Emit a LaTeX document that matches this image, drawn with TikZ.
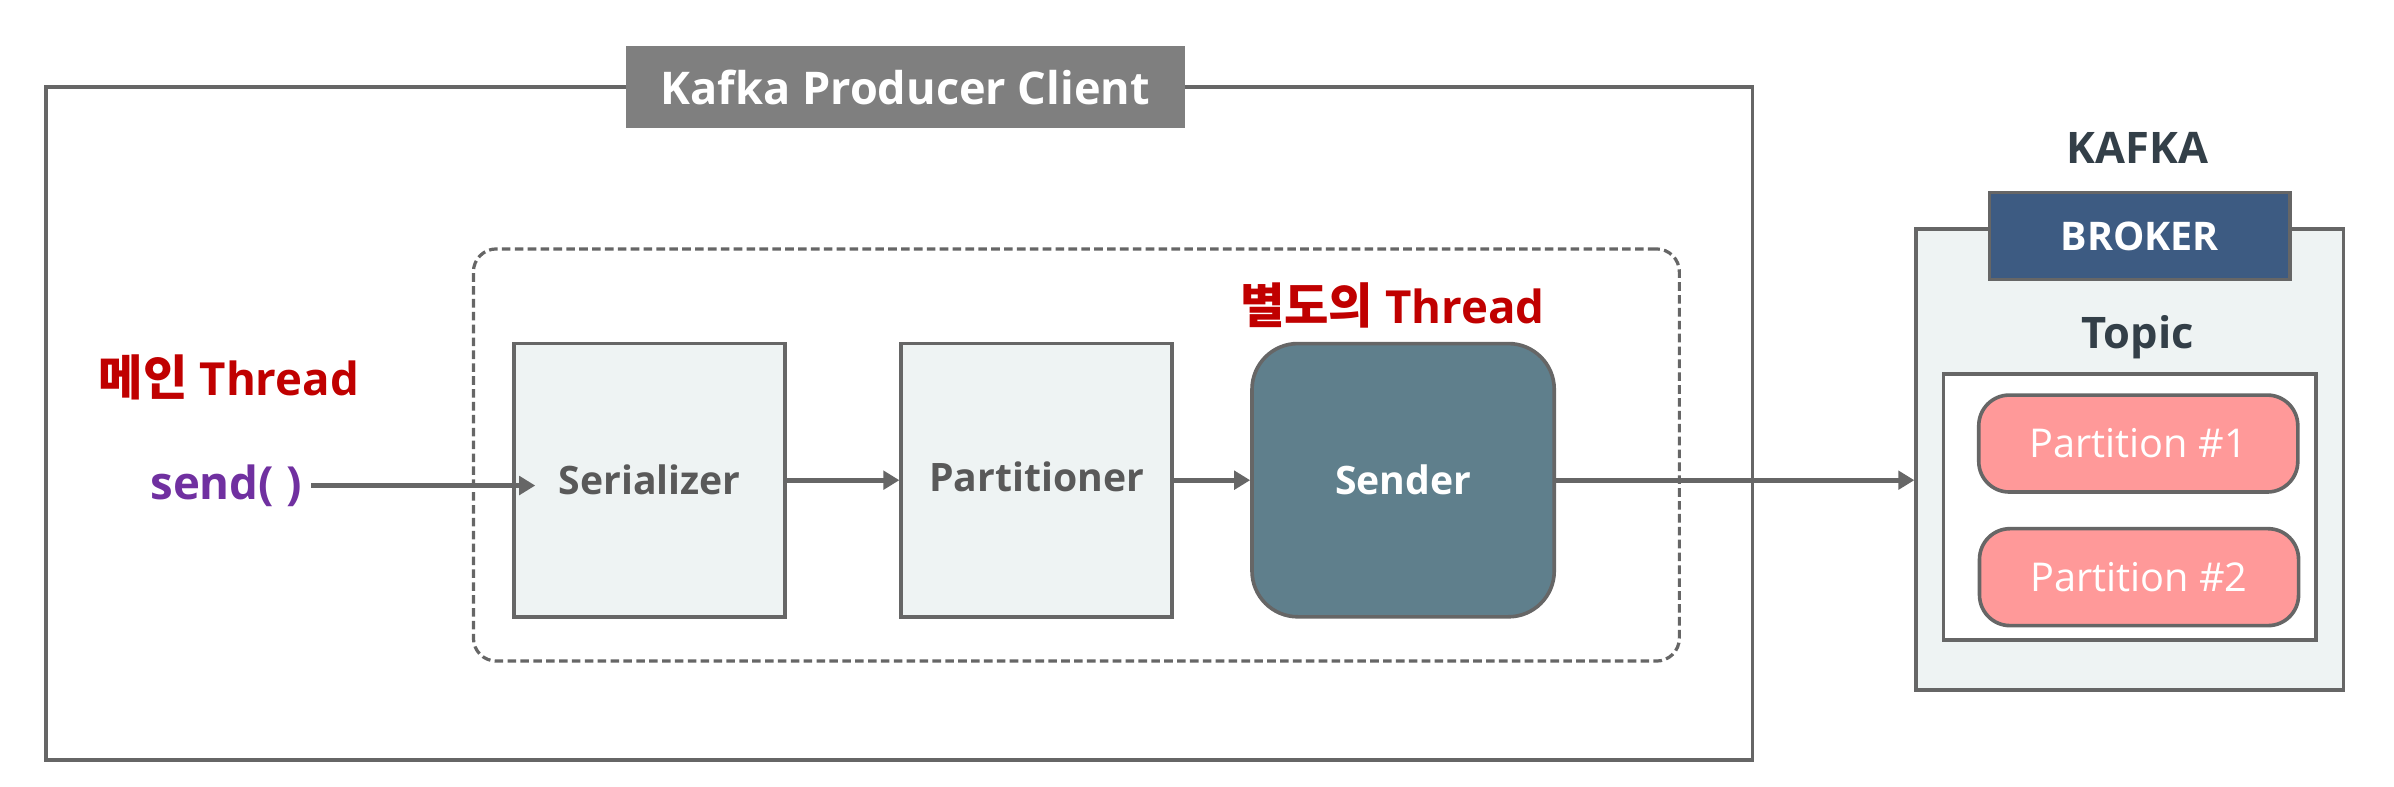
\documentclass[tikz,border=0pt]{standalone}
\usepackage{fontspec}
\setmainfont{Open Sans}
\newfontfamily\krfont{Noto Sans CJK KR}
\usepackage{tikz}
\usetikzlibrary{arrows.meta}
\definecolor{linegray}{HTML}{666666}
\definecolor{titlegray}{HTML}{7F7F7F}
\definecolor{boxfill}{HTML}{EEF3F3}
\definecolor{senderfill}{HTML}{5F7F8C}
\definecolor{brokerfill}{HTML}{3D5B82}
\definecolor{threadred}{HTML}{C00000}
\definecolor{sendpurple}{HTML}{7030A0}
\definecolor{darktext}{HTML}{333F48}
\definecolor{partfill}{HTML}{FF9999}
\definecolor{boxtext}{HTML}{595959}

\begin{document}
\begin{tikzpicture}[x=0.02cm, y=-0.02cm,
    box/.style={draw=linegray, line width=1.35pt, inner sep=0pt},
    stagebox/.style={box, fill=boxfill, text=boxtext, minimum width=3.55cm, minimum height=3.58cm,
        font=\fontsize{14.6}{16}\selectfont\bfseries},
    partbox/.style={box, fill=partfill, text=white, rounded corners=0.4cm,
        minimum width=4.18cm, minimum height=1.27cm, font=\fontsize{14.8}{16}\selectfont},
    headtext/.style={text=darktext, font=\fontsize{16.2}{18}\selectfont\bfseries},
    threadtext/.style={text=threadred, font=\fontsize{17}{19}\selectfont\bfseries},
    flow/.style={draw=linegray, line width=2pt, -{Triangle[length=0.21cm, width=0.24cm]}}]
    \useasboundingbox (0,0) rectangle (1568,515);
    \node[box, minimum width=22.36cm, minimum height=8.82cm] (client) at (589,277.5) {};
    \node[box, draw=none, fill=titlegray, text=white, minimum width=7.32cm, minimum height=1.08cm,
        font=\fontsize{16.8}{18}\selectfont\bfseries] (clienttitle) at (593,57) {Kafka Producer Client};
    \node[draw=linegray, line width=1.2pt, dash pattern=on 3.2pt off 1.6pt, rounded corners=0.3cm,
        minimum width=15.8cm, minimum height=5.4cm] (threadarea) at (705,298) {};
    \node[threadtext] (mainthread) at (150,247) {{\krfont\bfseries\fontsize{18}{19}\selectfont 메인} Thread};
    \node[threadtext, text=sendpurple] (send) at (148,318) {send( )};
    \node[stagebox] (serializer) at (425.5,314.5) {Serializer};
    \node[stagebox] (partitioner) at (679,314.5) {\raisebox{3pt}{Partitioner}};
    \node[stagebox, fill=senderfill, text=white, minimum width=3.96cm, rounded corners=0.6cm] (sender) at (919,314.5) {Sender};
    \node[threadtext] (septhread) at (912,200) {{\krfont\bfseries\fontsize{18}{19}\selectfont 별도의} Thread};
    \node[headtext] (kafka) at (1400,97) {KAFKA};
    \node[box, fill=boxfill, minimum width=5.6cm, minimum height=6.04cm] (broker) at (1395,301) {};
    \node[box, fill=brokerfill, text=white, minimum width=3.94cm, minimum height=1.14cm,
        font=\fontsize{14.7}{16}\selectfont\bfseries] (brokertitle) at (1401.5,154.5) {BROKER};
    \node[headtext] (topic) at (1400,221) {Topic};
    \node[box, fill=white, minimum width=4.88cm, minimum height=3.48cm] (topicbox) at (1395,332) {};
    \node[partbox] (part1) at (1400.5,290.5) {Partition \#1};
    \node[partbox] (part2) at (1401,378) {Partition \#2};
    \draw[flow] (send.east) -- ([xshift=0.3cm]send.east -| serializer.west);
    \draw[flow] (serializer) -- (partitioner);
    \draw[flow] (partitioner) -- (sender);
    \draw[flow] (sender.east) -- (sender.east -| broker.west);
\end{tikzpicture}
\end{document}
